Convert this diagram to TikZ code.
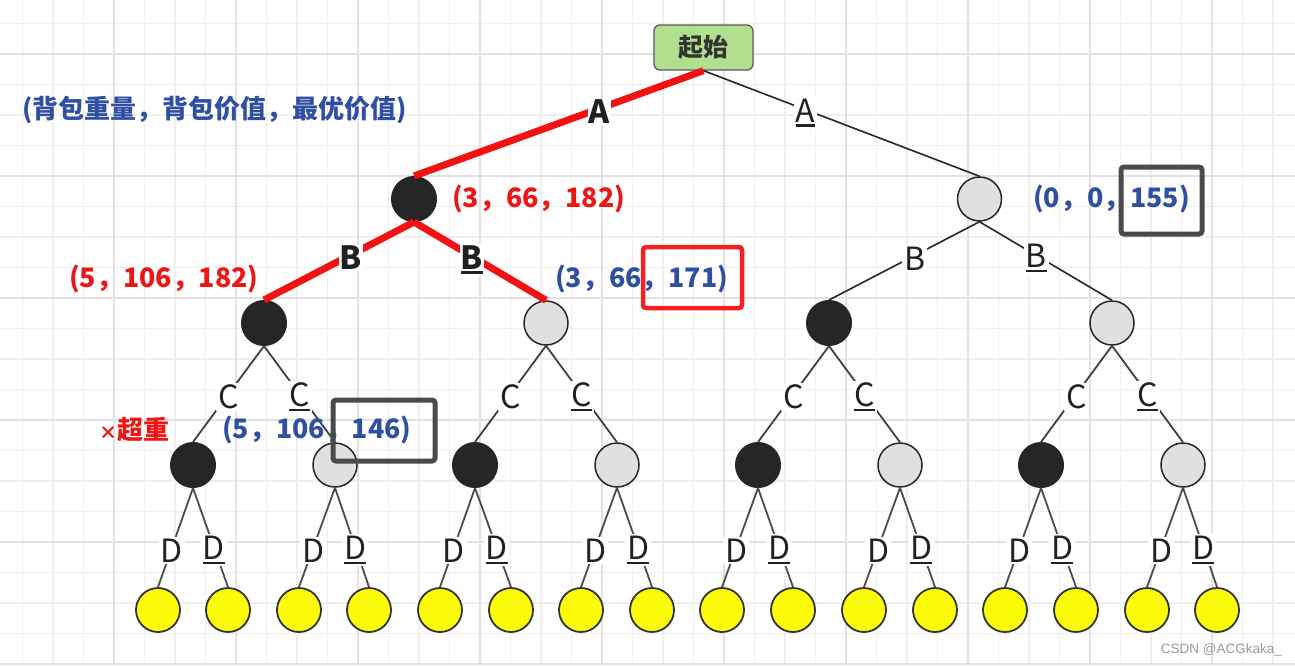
\documentclass[tikz,border=0pt]{standalone}
\usepackage{fontspec}
\setmainfont{Noto Sans CJK SC}
\newfontfamily\wmfont{Liberation Sans}
\definecolor{redE}{HTML}{F21212}
\definecolor{tblue}{HTML}{2F4FA3}
\definecolor{tred}{HTML}{F01515}
\definecolor{nblack}{HTML}{262626}
\definecolor{ngray}{HTML}{E0E0E0}
\definecolor{nyel}{HTML}{FCFC0A}
\definecolor{sgreen}{HTML}{B0E08E}
\definecolor{boxgray}{HTML}{4A4A4A}
\definecolor{boxred}{HTML}{F52020}
\definecolor{gminor}{HTML}{EFEFEF}
\definecolor{gmajor}{HTML}{E2E2E2}
\newcommand\ulx[1]{\setbox0=\hbox{#1}\rlap{\rule[-4.5pt]{\wd0}{2.4pt}}\box0}
\begin{document}
\begin{tikzpicture}[x=1pt,y=-1pt,
  gridminor/.style={draw=gminor,line width=1.5pt},
  gridmajor/.style={draw=gmajor,line width=2pt},
  blk/.style={circle,fill=nblack,draw=nblack,line width=1pt,minimum size=45pt,inner sep=0pt},
  gry/.style={circle,fill=ngray,draw=black!85,line width=1.5pt,minimum size=44pt,inner sep=0pt},
  yel/.style={circle,fill=nyel,draw=black!80,line width=1.8pt,minimum size=44pt,inner sep=0pt},
  startbox/.style={rectangle,rounded corners=6pt,fill=sgreen,draw=black!65,line width=1.3pt,minimum width=99pt,minimum height=45pt,font=\bfseries\fontsize{25}{25}\selectfont,text=black!80},
  redline/.style={draw=redE,line width=7pt},
  thinline/.style={draw=black!85,line width=1.6pt},
  midline/.style={draw=black!75,line width=1.8pt},
  leafline/.style={draw=black!70,line width=1.8pt},
  elab/.style={fill=white,inner sep=2pt,yshift=-3pt,font=\fontsize{32}{32}\selectfont,text=black!87},
  tup/.style={anchor=west,inner sep=0pt,font=\bfseries\fontsize{26.8}{26.8}\selectfont},
  hlbox/.style={draw=boxgray,line width=5pt,rounded corners=3pt,inner sep=0pt},
  hlred/.style={draw=boxred,line width=4.5pt,rounded corners=3pt,inner sep=0pt}
]
\useasboundingbox (0,0) rectangle (1295,665);
\fill[white] (0,0) rectangle (1295,665);
% grid
\foreach \k in {0,...,43} \draw[gridminor] ({-8+30.5*\k},0) -- ({-8+30.5*\k},665);
\foreach \k in {0,...,21} \draw[gridminor] (0,{23.5+30.5*\k}) -- (1295,{23.5+30.5*\k});
\foreach \k in {0,...,10} \draw[gridmajor] ({-8+122*\k},0) -- ({-8+122*\k},665);
\foreach \k in {0,...,5} \draw[gridmajor] (0,{54+122*\k}) -- (1295,{54+122*\k});

% nodes
\node[startbox] (s) at (703.5,47.5) {起始};
\node[blk] (a1) at (414,199) {};
\node[gry] (a2) at (979.5,199) {};
\node[blk] (b1) at (264,323) {};
\node[gry] (b2) at (546,323) {};
\node[blk] (b3) at (829,323) {};
\node[gry] (b4) at (1112,323) {};
\foreach \i/\x/\t in {1/193/blk,2/335/gry,3/475/blk,4/617/gry,5/758/blk,6/900/gry,7/1041/blk,8/1183/gry}
  \node[\t] (c\i) at (\x,465) {};
\foreach \i/\x in {1/158,2/228,3/299,4/369,5/440,6/511,7/581,8/652,9/722,10/793,11/864,12/935,13/1005,14/1076,15/1147,16/1217}
  \node[yel] (d\i) at (\x,610) {};

% level 0-1
\draw[redline] (s.south) -- node[elab,pos=.36,inner sep=1pt] {\bfseries A} (a1.north);
\draw[thinline] (s.south) -- node[elab,pos=.37] {\ulx{A}} (a2.north);
% level 1-2
\draw[redline] (a1.south) -- node[elab,pos=.42,inner sep=1pt] {\bfseries B} (b1.north);
\draw[redline] (a1.south) -- node[elab,pos=.44,inner sep=1pt] {\ulx{\bfseries B}} (b2.north);
\draw[thinline] (a2.south) -- node[elab,pos=.43] {B} (b3.north);
\draw[thinline] (a2.south) -- node[elab,pos=.43] {\ulx{B}} (b4.north);
% level 2-3
\foreach \p/\l/\r in {b1/c1/c2,b2/c3/c4,b3/c5/c6,b4/c7/c8} {
  \draw[midline] (\p.south) -- node[elab,pos=.5] {C} (\l.north);
  \draw[midline] (\p.south) -- node[elab,pos=.5] {\ulx{C}} (\r.north);
}
% level 3-4
\foreach \i in {1,...,8} {
  \pgfmathtruncatemacro\la{2*\i-1}
  \pgfmathtruncatemacro\lb{2*\i}
  \draw[leafline] (c\i.south) -- node[elab,pos=.6] {D} (d\la.north);
  \draw[leafline] (c\i.south) -- node[elab,pos=.6] {\ulx{D}} (d\lb.north);
}

% annotations
\node[tup,text=tblue,font=\bfseries\fontsize{26}{26}\selectfont] (hdr) at (22,110) {(背包重量，背包价值，最优价值)};
\node[tup,text=tred] (t1) at (452,199) {(3，66，182)};
\node[tup,text=tblue] (t2) at (1033,199) {(0，0，155)};
\node[tup,text=tred] (t3) at (69,279) {(5，106，182)};
\node[tup,text=tblue] (t4) at (555,279) {(3，66，171)};
\node[tup,text=tred,font=\bfseries\fontsize{26}{26}\selectfont] (t5) at (99,430) {{\fontsize{18}{18}\selectfont ×}超重};
\node[tup,text=tblue] (t6) at (222,430) {(5，106，146)};

% highlight boxes
\node[hlbox,minimum width=81pt,minimum height=67pt] (h1) at (1161.5,200.5) {};
\node[hlred,minimum width=99pt,minimum height=61pt] (h2) at (692.5,277.5) {};
\node[hlbox,minimum width=102pt,minimum height=61pt] (h3) at (384,430.5) {};

% watermark
\node[anchor=east,inner sep=0pt,font=\wmfont\fontsize{13.5}{13.5}\selectfont,text=black!40] (wm) at (1282,650) {CSDN @ACGkaka\_};
\end{tikzpicture}
\end{document}
